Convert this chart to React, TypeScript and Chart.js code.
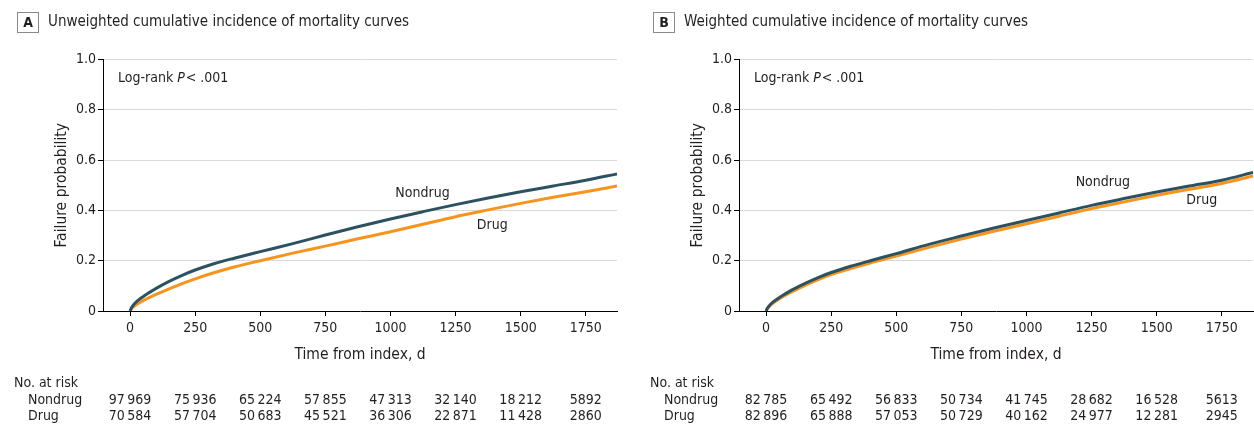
import React, { useEffect, useRef } from "react";
import { Chart, registerables } from "chart.js";
Chart.register(...registerables);

// ---- data ----
const days = [0, 5, 10, 25, 50, 75, 100, 150, 200, 250, 325, 400, 500, 625, 750, 875, 1000, 1125, 1250, 1375, 1500, 1625, 1750, 1870];
const unweightedNondrug = [0, 0.012, 0.02, 0.037, 0.057, 0.074, 0.09, 0.118, 0.142, 0.163, 0.189, 0.21, 0.236, 0.268, 0.302, 0.335, 0.366, 0.395, 0.423, 0.449, 0.474, 0.497, 0.52, 0.545];
const unweightedDrug = [0, 0.008, 0.014, 0.026, 0.041, 0.054, 0.066, 0.088, 0.109, 0.128, 0.153, 0.175, 0.2, 0.23, 0.258, 0.287, 0.315, 0.345, 0.375, 0.402, 0.428, 0.452, 0.474, 0.497];
const weightedNondrug = [0, 0.011, 0.018, 0.034, 0.053, 0.069, 0.084, 0.11, 0.133, 0.153, 0.178, 0.2, 0.228, 0.265, 0.298, 0.33, 0.36, 0.39, 0.42, 0.447, 0.473, 0.497, 0.52, 0.551];
const weightedDrug = [0, 0.009, 0.016, 0.03, 0.048, 0.063, 0.077, 0.102, 0.125, 0.145, 0.169, 0.191, 0.218, 0.253, 0.286, 0.317, 0.347, 0.377, 0.407, 0.434, 0.46, 0.484, 0.507, 0.537];

const xTickValues = [0, 250, 500, 750, 1000, 1250, 1500, 1750];
const yTickValues = [0, 0.2, 0.4, 0.6, 0.8, 1.0];
const riskTimes = [0, 250, 500, 750, 1000, 1250, 1500, 1750];
const riskUnweightedNondrug = [97969, 75936, 65224, 57855, 47313, 32140, 18212, 5892];
const riskUnweightedDrug = [70584, 57704, 50683, 45521, 36306, 22871, 11428, 2860];
const riskWeightedNondrug = [82785, 65492, 56833, 50734, 41745, 28682, 16528, 5613];
const riskWeightedDrug = [82896, 65888, 57053, 50729, 40162, 24977, 12281, 2945];

const NONDRUG_COLOR = "#2c5261";
const DRUG_COLOR = "#f7941d";
const TEXT = "#231f20";
const FONT = '"Liberation Sans Narrow", "DejaVu Sans Condensed", Roboto, sans-serif';

function fmt(n: number): string {
  if (n >= 10000) return Math.floor(n / 1000) + "\u2009" + String(n % 1000).padStart(3, "0");
  return String(n);
}

type PanelProps = {
  letter: string;
  title: string;
  nondrug: number[];
  drug: number[];
  riskN: number[];
  riskD: number[];
  nondrugLabel: [number, number];
  drugLabel: [number, number];
};

function Panel(p: PanelProps) {
  const ref = useRef<HTMLCanvasElement>(null);
  useEffect(() => {
    const canvas = ref.current!;
    const extras = {
      id: "extras",
      afterDraw(chart: any) {
        const ctx = chart.ctx as CanvasRenderingContext2D;
        const xs = chart.scales.x;
        const ys = chart.scales.y;
        const ca = chart.chartArea;
        ctx.save();
        ctx.fillStyle = TEXT;
        // panel letter box
        ctx.strokeStyle = "#8a8a8a";
        ctx.lineWidth = 1;
        ctx.strokeRect(17.5, 12.5, 21, 20);
        ctx.font = `bold 14px ${FONT}`;
        ctx.textAlign = "center";
        ctx.textBaseline = "middle";
        ctx.fillText(p.letter, 28, 23);
        ctx.font = `15px ${FONT}`;
        ctx.textAlign = "left";
        ctx.fillText(p.title, 48, 22);
        // log-rank
        ctx.font = `14px ${FONT}`;
        let x = 118;
        const y = 78;
        ctx.fillText("Log-rank ", x, y);
        x += ctx.measureText("Log-rank ").width;
        ctx.font = `italic 14px ${FONT}`;
        ctx.fillText("P", x, y);
        x += ctx.measureText("P").width + 1;
        ctx.font = `14px ${FONT}`;
        ctx.fillText("< .001", x, y);
        // curve labels
        ctx.textAlign = "center";
        ctx.fillText("Nondrug", xs.getPixelForValue(p.nondrugLabel[0]), ys.getPixelForValue(p.nondrugLabel[1]));
        ctx.fillText("Drug", xs.getPixelForValue(p.drugLabel[0]), ys.getPixelForValue(p.drugLabel[1]));
        // axis titles
        ctx.font = `15.5px ${FONT}`;
        ctx.fillText("Time from index, d", (ca.left + ca.right) / 2, 355);
        ctx.save();
        ctx.translate(62, (ca.top + ca.bottom) / 2);
        ctx.rotate(-Math.PI / 2);
        ctx.fillText("Failure probability", 0, 0);
        ctx.restore();
        // risk table
        ctx.font = `14px ${FONT}`;
        ctx.textAlign = "left";
        ctx.fillText("No. at risk", 14, 383);
        ctx.fillText("Nondrug", 28, 400);
        ctx.fillText("Drug", 28, 416);
        ctx.textAlign = "center";
        riskTimes.forEach((t, i) => {
          const px = xs.getPixelForValue(t);
          ctx.fillText(fmt(p.riskN[i]), px, 400);
          ctx.fillText(fmt(p.riskD[i]), px, 416);
        });
        ctx.restore();
      },
    };
    const chart = new Chart(canvas, {
      type: "line",
      data: {
        datasets: [
          {
            label: "Nondrug",
            data: days.map((d, i) => ({ x: d, y: p.nondrug[i] })),
            borderColor: NONDRUG_COLOR,
            borderWidth: 3,
            pointRadius: 0,
            cubicInterpolationMode: "monotone",
          },
          {
            label: "Drug",
            data: days.map((d, i) => ({ x: d, y: p.drug[i] })),
            borderColor: DRUG_COLOR,
            borderWidth: 3,
            pointRadius: 0,
            cubicInterpolationMode: "monotone",
          },
        ],
      },
      options: {
        animation: false,
        responsive: false,
        devicePixelRatio: 1,
        layout: { padding: { left: 0, right: 19, top: 59.5, bottom: 87 } },
        plugins: { legend: { display: false }, tooltip: { enabled: false } },
        scales: {
          x: {
            type: "linear",
            min: -104,
            max: 1870,
            afterBuildTicks: (s: any) => {
              s.ticks = xTickValues.map((v) => ({ value: v }));
            },
            afterFit: (s: any) => {
              s.height = 30;
            },
            ticks: {
              autoSkip: false,
              maxRotation: 0,
              padding: 4,
              color: TEXT,
              font: { family: FONT, size: 14 },
              callback: (v: any) => String(v),
            },
            grid: { drawOnChartArea: false, drawTicks: true, tickLength: 5, tickColor: "#000" },
            border: { color: "#000", width: 1 },
          },
          y: {
            type: "linear",
            min: 0,
            max: 1,
            afterBuildTicks: (s: any) => {
              s.ticks = yTickValues.map((v) => ({ value: v }));
            },
            afterFit: (s: any) => {
              s.width = 103;
            },
            ticks: {
              padding: 2,
              color: TEXT,
              font: { family: FONT, size: 14 },
              callback: (v: any) => (Number(v) === 0 ? "0" : Number(v).toFixed(1)),
            },
            grid: {
              drawTicks: true,
              tickLength: 5,
              tickColor: "#000",
              color: (c: any) => (c.tick && c.tick.value === 0 ? "rgba(0,0,0,0)" : "#d9d9d9"),
              lineWidth: 1,
            },
            border: { color: "#000", width: 1 },
          },
        },
      },
      plugins: [extras],
    } as any);
    return () => chart.destroy();
  }, []);
  return <canvas ref={ref} width={636} height={428} style={{ display: "block" }} />;
}

export default function App() {
  return (
    <div style={{ position: "absolute", left: 0, top: 0, width: 1254, height: 428, overflow: "hidden", background: "#fff" }}>
      <div style={{ position: "absolute", left: 0, top: 0 }}>
        <Panel
          letter="A"
          title="Unweighted cumulative incidence of mortality curves"
          nondrug={unweightedNondrug}
          drug={unweightedDrug}
          riskN={riskUnweightedNondrug}
          riskD={riskUnweightedDrug}
          nondrugLabel={[1123, 0.469]}
          drugLabel={[1391, 0.342]}
        />
      </div>
      <div style={{ position: "absolute", left: 636, top: 0 }}>
        <Panel
          letter="B"
          title="Weighted cumulative incidence of mortality curves"
          nondrug={weightedNondrug}
          drug={weightedDrug}
          riskN={riskWeightedNondrug}
          riskD={riskWeightedDrug}
          nondrugLabel={[1293, 0.513]}
          drugLabel={[1673, 0.439]}
        />
      </div>
    </div>
  );
}
